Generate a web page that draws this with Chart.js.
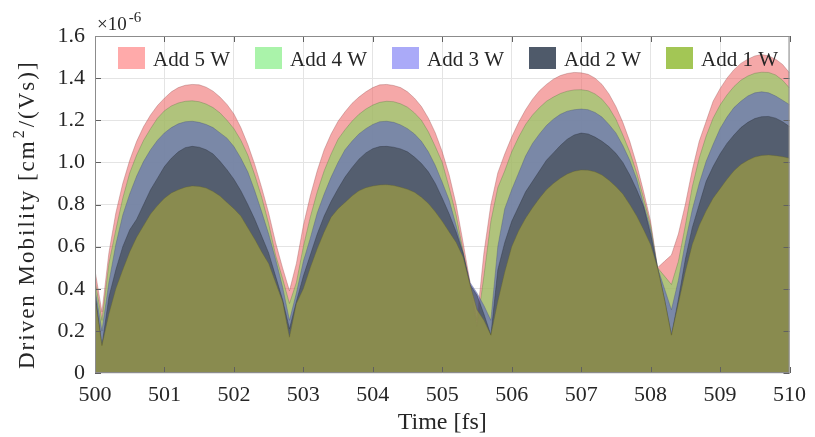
<!DOCTYPE html>
<html>
<head>
<meta charset="utf-8">
<script src="https://cdn.jsdelivr.net/npm/chart.js@4.4.1/dist/chart.umd.min.js"></script>
<style>
  html, body { margin: 0; padding: 0; background: #fff; }
</style>
</head>
<body>
<canvas id="mobilityChart" width="815" height="437"></canvas>
<script>
// time axis, fs
const timeFs = [
  500.0, 500.1, 500.2, 500.3, 500.4, 500.5, 500.6, 500.7, 500.8, 500.9,
  501.0, 501.1, 501.2, 501.3, 501.4, 501.5, 501.6, 501.7, 501.8, 501.9,
  502.0, 502.1, 502.2, 502.3, 502.4, 502.5, 502.6, 502.7, 502.8, 502.9,
  503.0, 503.1, 503.2, 503.3, 503.4, 503.5, 503.6, 503.7, 503.8, 503.9,
  504.0, 504.1, 504.2, 504.3, 504.4, 504.5, 504.6, 504.7, 504.8, 504.9,
  505.0, 505.1, 505.2, 505.3, 505.4, 505.5, 505.6, 505.7, 505.8, 505.9,
  506.0, 506.1, 506.2, 506.3, 506.4, 506.5, 506.6, 506.7, 506.8, 506.9,
  507.0, 507.1, 507.2, 507.3, 507.4, 507.5, 507.6, 507.7, 507.8, 507.9,
  508.0, 508.1, 508.2, 508.3, 508.4, 508.5, 508.6, 508.7, 508.8, 508.9,
  509.0, 509.1, 509.2, 509.3, 509.4, 509.5, 509.6, 509.7, 509.8, 509.9,
  510.0
];

// driven mobility, x1e-6 cm^2/(Vs)
const add5W = [
  0.487, 0.29, 0.57, 0.76, 0.90, 1.01, 1.10, 1.17, 1.225, 1.27,
  1.305, 1.335, 1.355, 1.366, 1.37, 1.368, 1.357, 1.338, 1.31, 1.275,
  1.23, 1.165, 1.085, 0.99, 0.88, 0.76, 0.62, 0.50, 0.39, 0.52,
  0.70, 0.84, 0.96, 1.06, 1.135, 1.195, 1.24, 1.28, 1.31, 1.335,
  1.355, 1.368, 1.37, 1.365, 1.355, 1.335, 1.305, 1.265, 1.21, 1.14,
  1.05, 0.94, 0.80, 0.62, 0.43, 0.25, 0.57, 0.80, 0.95, 1.04,
  1.12, 1.19, 1.25, 1.30, 1.34, 1.37, 1.395, 1.412, 1.422, 1.427,
  1.425, 1.418, 1.40, 1.37, 1.325, 1.265, 1.19, 1.10, 0.99, 0.86,
  0.72, 0.50, 0.53, 0.56, 0.66, 0.80, 0.964, 1.10, 1.195, 1.29,
  1.35, 1.40, 1.44, 1.47, 1.49, 1.505, 1.512, 1.505, 1.49, 1.465,
  1.425
];
const add4W = [
  0.44, 0.25, 0.52, 0.68, 0.83, 0.95, 1.035, 1.105, 1.16, 1.21,
  1.245, 1.268, 1.282, 1.29, 1.292, 1.288, 1.277, 1.26, 1.235, 1.2,
  1.16, 1.105, 1.035, 0.94, 0.835, 0.71, 0.56, 0.45, 0.33, 0.43,
  0.60, 0.74, 0.86, 0.96, 1.04, 1.11, 1.155, 1.195, 1.228, 1.253,
  1.272, 1.285, 1.29, 1.288, 1.278, 1.262, 1.235, 1.2, 1.145, 1.075,
  1.00, 0.88, 0.75, 0.58, 0.40, 0.22, 0.46, 0.72, 0.88, 0.96,
  1.05, 1.12, 1.18, 1.225, 1.26, 1.29, 1.31, 1.327, 1.338, 1.344,
  1.345, 1.34, 1.325, 1.30, 1.26, 1.205, 1.13, 1.05, 0.95, 0.83,
  0.70, 0.50, 0.46, 0.42, 0.53, 0.70, 0.884, 1.02, 1.125, 1.21,
  1.272, 1.32, 1.36, 1.39, 1.41, 1.423, 1.428, 1.427, 1.415, 1.39,
  1.353
];
const add3W = [
  0.40, 0.20, 0.43, 0.61, 0.75, 0.85, 0.935, 1.005, 1.06, 1.105,
  1.14, 1.165, 1.183, 1.193, 1.195, 1.19, 1.18, 1.165, 1.14, 1.115,
  1.075, 1.02, 0.955, 0.865, 0.765, 0.66, 0.54, 0.41, 0.25, 0.38,
  0.53, 0.64, 0.76, 0.85, 0.93, 1.00, 1.06, 1.10, 1.135, 1.16,
  1.18, 1.193, 1.195, 1.19, 1.178, 1.16, 1.135, 1.10, 1.05, 0.985,
  0.905, 0.82, 0.70, 0.57, 0.43, 0.38, 0.32, 0.25, 0.60, 0.78,
  0.87, 0.95, 1.03, 1.09, 1.135, 1.175, 1.205, 1.228, 1.243, 1.25,
  1.253, 1.25, 1.237, 1.215, 1.18, 1.14, 1.08, 1.01, 0.92, 0.80,
  0.68, 0.50, 0.40, 0.30, 0.44, 0.62, 0.775, 0.90, 1.005, 1.085,
  1.16, 1.215, 1.26, 1.29, 1.315, 1.33, 1.335, 1.33, 1.315, 1.295,
  1.274
];
const add2W = [
  0.38, 0.13, 0.36, 0.49, 0.60, 0.68, 0.73, 0.80, 0.87, 0.925,
  0.98, 1.02, 1.05, 1.07, 1.076, 1.072, 1.06, 1.04, 1.005, 0.965,
  0.92, 0.865, 0.80, 0.73, 0.65, 0.57, 0.46, 0.35, 0.21, 0.34,
  0.46, 0.56, 0.66, 0.745, 0.815, 0.875, 0.93, 0.975, 1.015, 1.045,
  1.065, 1.075, 1.076, 1.072, 1.064, 1.05, 1.025, 0.995, 0.955, 0.90,
  0.83, 0.755, 0.67, 0.57, 0.42, 0.37, 0.28, 0.18, 0.49, 0.62,
  0.72, 0.79, 0.86, 0.91, 0.96, 1.01, 1.045, 1.08, 1.11, 1.13,
  1.139, 1.135, 1.12, 1.10, 1.075, 1.043, 1.00, 0.94, 0.87, 0.79,
  0.66, 0.50, 0.35, 0.18, 0.35, 0.54, 0.69, 0.80, 0.91, 0.98,
  1.04, 1.09, 1.13, 1.165, 1.19, 1.208, 1.217, 1.218, 1.21, 1.193,
  1.17
];
const add1W = [
  0.36, 0.13, 0.28, 0.40, 0.49, 0.575, 0.645, 0.70, 0.755, 0.795,
  0.83, 0.855, 0.87, 0.882, 0.888, 0.886, 0.878, 0.862, 0.84, 0.81,
  0.78, 0.745, 0.69, 0.635, 0.575, 0.52, 0.43, 0.34, 0.17, 0.33,
  0.40, 0.50, 0.59, 0.67, 0.74, 0.78, 0.81, 0.84, 0.865, 0.88,
  0.888, 0.893, 0.894, 0.89, 0.882, 0.872, 0.858, 0.835, 0.805, 0.765,
  0.72, 0.67, 0.62, 0.55, 0.42, 0.30, 0.25, 0.18, 0.34, 0.48,
  0.60, 0.675, 0.735, 0.785, 0.83, 0.87, 0.90, 0.925, 0.945, 0.958,
  0.964, 0.963, 0.955, 0.94, 0.915, 0.885, 0.85, 0.80, 0.745, 0.68,
  0.61, 0.50, 0.35, 0.18, 0.33, 0.48, 0.61, 0.70, 0.77, 0.83,
  0.875, 0.92, 0.96, 0.99, 1.01, 1.025, 1.033, 1.035, 1.032, 1.027,
  1.02
];

const seriesNames = ['Add 5 W', 'Add 4 W', 'Add 3 W', 'Add 2 W', 'Add 1 W'];
const seriesValues = [add5W, add4W, add3W, add2W, add1W];
// translucent fills, stacked back to front like the original
const fillColors = ['rgba(238,110,110,0.6)', 'rgba(130,214,95,0.6)', 'rgba(86,99,197,0.6)', 'rgba(60,66,75,0.6)', 'rgba(173,170,59,0.6)'];
const edgeColors = ['rgba(150,80,80,0.45)', 'rgba(90,120,70,0.45)', 'rgba(70,80,120,0.45)', 'rgba(40,45,55,0.45)', 'rgba(100,100,40,0.45)'];
const legendColors = ['#ffaaaa', '#aaf3aa', '#aaaaf8', '#4f5a6a', '#a3c655'];

const textColor = '#262626';
const serif = '"Liberation Serif", "Times New Roman", serif';

const extras = {
  id: 'extras',
  afterDraw(chart) {
    const { ctx, chartArea: a, scales: { x, y } } = chart;
    ctx.save();
    // inward ticks on all four sides
    ctx.strokeStyle = '#606060';
    ctx.lineWidth = 1;
    ctx.beginPath();
    x.ticks.forEach(t => {
      const px = Math.round(x.getPixelForValue(t.value)) + 0.5;
      ctx.moveTo(px, a.bottom); ctx.lineTo(px, a.bottom - 6);
      ctx.moveTo(px, a.top); ctx.lineTo(px, a.top + 6);
    });
    y.ticks.forEach(t => {
      const py = Math.round(y.getPixelForValue(t.value)) + 0.5;
      ctx.moveTo(a.left, py); ctx.lineTo(a.left + 6, py);
      ctx.moveTo(a.right, py); ctx.lineTo(a.right - 6, py);
    });
    ctx.stroke();
    // frame
    ctx.strokeStyle = '#8c8c8c';
    ctx.strokeRect(a.left + 0.5, a.top + 0.5, a.right - a.left - 1, a.bottom - a.top - 1);

    // exponent label
    ctx.fillStyle = textColor;
    ctx.textBaseline = 'alphabetic';
    ctx.textAlign = 'left';
    ctx.font = '19px ' + serif;
    ctx.fillText('\u00d710', a.left + 2, a.top - 6);
    const w = ctx.measureText('\u00d710').width;
    ctx.font = '15px ' + serif;
    ctx.fillText('-6', a.left + 4 + w, a.top - 14);

    // legend inside the axes
    ctx.font = '21px ' + serif;
    seriesNames.forEach((name, i) => {
      const bx = a.left + 23 + i * 137;
      ctx.fillStyle = legendColors[i];
      ctx.fillRect(bx, a.top + 11, 27, 22);
      ctx.fillStyle = textColor;
      ctx.fillText(name, bx + 35, a.top + 30);
    });

    // y axis title with raised exponent
    ctx.translate(34, a.bottom - 4);
    ctx.rotate(-Math.PI / 2);
    ctx.fillStyle = textColor;
    if ('letterSpacing' in ctx) ctx.letterSpacing = '2px';
    let cx = 0;
    ctx.font = '23px ' + serif;
    ctx.fillText('Driven Mobility [cm', cx, 0);
    cx += ctx.measureText('Driven Mobility [cm').width + 1;
    ctx.font = '16px ' + serif;
    ctx.fillText('2', cx, -10);
    cx += ctx.measureText('2').width + 1;
    ctx.font = '23px ' + serif;
    ctx.fillText('/(Vs)]', cx, 0);
    ctx.restore();
  }
};

new Chart(document.getElementById('mobilityChart'), {
  type: 'line',
  data: {
    datasets: seriesNames.map((name, i) => ({
      label: name,
      data: timeFs.map((t, k) => ({ x: t, y: seriesValues[i][k] })),
      backgroundColor: fillColors[i],
      borderColor: edgeColors[i],
      borderWidth: 0.8,
      fill: 'origin',
      pointRadius: 0,
      tension: 0,
      order: 5 - i
    }))
  },
  options: {
    responsive: false,
    animation: false,
    layout: { padding: { top: 36, right: 21, left: 0, bottom: 0 } },
    plugins: { legend: { display: false }, tooltip: { enabled: false } },
    scales: {
      x: {
        type: 'linear', min: 500, max: 510,
        ticks: { stepSize: 1, color: textColor, font: { family: serif, size: 22 }, padding: 9, maxRotation: 0 },
        grid: { color: '#e4e4e4', drawTicks: false },
        border: { display: false },
        title: { display: true, text: 'Time [fs]', color: textColor, font: { family: serif, size: 24 }, padding: 0 },
        afterFit: s => { s.height = 64; }
      },
      y: {
        min: 0, max: 1.6,
        ticks: {
          stepSize: 0.2, color: textColor, font: { family: serif, size: 22 }, padding: 10,
          callback: v => (Math.abs(v) < 1e-9 ? '0' : v.toFixed(1))
        },
        grid: { color: '#e4e4e4', drawTicks: false },
        border: { display: false },
        afterFit: s => { s.width = 95; }
      }
    }
  },
  plugins: [extras]
});
</script>
</body>
</html>
